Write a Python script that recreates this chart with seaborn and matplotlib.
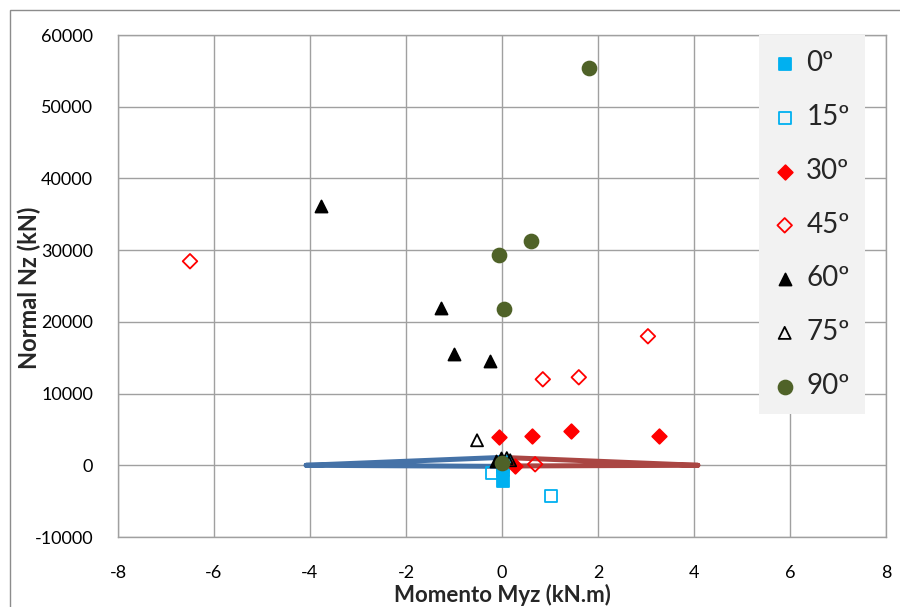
# interaction-style scatter: Nz vs Myz for several angles

import matplotlib.pyplot as plt
import seaborn as sns
import pandas as pd
from matplotlib.patches import Rectangle

# values
m_0 = [0.02, 0.03, 0.06]
n_0 = [-2230, -700, 400]
m_15 = [-0.21, 1.02, 0.02]
n_15 = [-1120, -4320, -300]
m_30 = [-0.06, 0.62, 1.44, 3.27, 0.27]
n_30 = [3900, 4040, 4740, 4040, -140]
m_45 = [-6.5, 0.85, 1.6, 3.04, 0.69]
n_45 = [28450, 11990, 12270, 17990, 140]
m_60 = [-3.77, -1.27, -1.0, -0.25, -0.12, -0.03]
n_60 = [36120, 21890, 15480, 14500, 600, 1000]
m_75 = [-0.52, 0.1, 0.17]
n_75 = [3490, 1000, 700]
m_90 = [1.81, 0.6, -0.06, 0.04, 0.0]
n_90 = [55360, 31240, 29280, 21750, 300]

env_left_m = [-4.08, 0.0, 0.0, -4.08]
env_left_n = [0, 1100, -150, 0]
env_right_m = [4.08, 0.0, 0.0, 4.08]
env_right_n = [0, 1100, -100, 0]

series = [
    ("0º", m_0, n_0, "s", "#00B0F0", True, 80),
    ("15º", m_15, n_15, "s", "#00B0F0", False, 75),
    ("30º", m_30, n_30, "D", "#FF0000", True, 55),
    ("45º", m_45, n_45, "D", "#FF0000", False, 55),
    ("60º", m_60, n_60, "^", "#000000", True, 75),
    ("75º", m_75, n_75, "^", "#000000", False, 75),
    ("90º", m_90, n_90, "o", "#4F6228", True, 100),
]

sns.set_theme(style="white")
plt.rcParams["font.family"] = ["Lato", "DejaVu Sans"]
plt.rcParams["axes.unicode_minus"] = False

fig = plt.figure(figsize=(9, 6.07), dpi=100)
ax = fig.add_axes([118 / 900, 1 - 537 / 607, 768 / 900, 502 / 607])

sns.lineplot(x=env_left_m, y=env_left_n, sort=False, estimator=None,
             color="#4572A7", lw=3.6, ax=ax, zorder=3)
sns.lineplot(x=env_right_m, y=env_right_n, sort=False, estimator=None,
             color="#AA4643", lw=3.6, ax=ax, zorder=3)

for lab, mx, nz, mk, col, filled, size in series:
    df = pd.DataFrame({"m": mx, "n": nz})
    sns.scatterplot(data=df, x="m", y="n", marker=mk, s=size,
                    facecolor=col if filled else "none", edgecolor=col,
                    linewidth=1.3, label=lab, ax=ax, zorder=4)

ax.set_xlim(-8, 8)
ax.set_ylim(-10000, 60000)
ax.set_xticks(range(-8, 9, 2))
ax.set_yticks(range(-10000, 60001, 10000))
ax.grid(True, color="#A0A0A0", lw=1)
ax.set_axisbelow(True)
for sp in ax.spines.values():
    sp.set_color("#A0A0A0")
    sp.set_linewidth(1)
ax.tick_params(length=0, labelsize=13, colors="#000000")
ax.tick_params(axis="x", pad=20)
ax.tick_params(axis="y", pad=18)

# x label sits at the very bottom edge, as in the original
ax.set_xlabel("Momento Myz (kN.m)", fontsize=16, fontweight="bold")
ax.set_ylabel("Normal Nz (kN)", fontsize=17, fontweight="bold")
ax.xaxis.set_label_coords(0.5, -(595 - 537) / 502)
ax.yaxis.set_label_coords(-(118 - 29) / 768, (537 - 288) / 502)
ax.xaxis.label.set_va("center")
ax.yaxis.label.set_va("center")

leg = ax.legend(loc="upper left", bbox_to_anchor=((759 - 118) / 768, 1.0),
                fontsize=20, frameon=True, fancybox=False, framealpha=1,
                borderaxespad=0, borderpad=0.55, labelspacing=1.0,
                handlelength=0.75, handletextpad=0.4, markerscale=1.0)
leg.get_frame().set_facecolor("#F2F2F2")
leg.get_frame().set_edgecolor("none")

fig.add_artist(Rectangle((10 / 900, -0.05), 1.0, 1 - 10 / 607 + 0.05,
                         transform=fig.transFigure, fill=False,
                         edgecolor="#8C8C8C", lw=1))

fig.savefig("out.png", dpi=100)
